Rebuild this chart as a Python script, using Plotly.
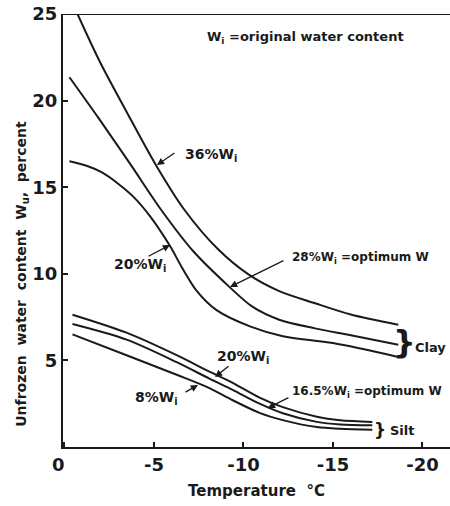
import plotly.graph_objects as go

# ---- data (temperature in °C, unfrozen water content in percent) ----
clay36_temp = [-0.73, -2.0, -3.5, -5.1, -6.7, -8.6, -10.3, -12.0, -14.0, -16.0, -18.65]
clay36_wu = [25.0, 22.2, 19.3, 16.3, 13.7, 11.4, 9.95, 9.0, 8.3, 7.65, 7.06]

clay28_temp = [-0.28, -1.9, -3.7, -5.4, -7.2, -9.2, -10.5, -12.0, -14.0, -16.0, -18.65]
clay28_wu = [21.35, 19.0, 16.3, 13.7, 11.3, 9.26, 8.1, 7.35, 6.85, 6.45, 5.9]

clay20_temp = [-0.28, -1.2, -2.1, -3.0, -3.9, -4.8, -5.9, -6.6, -7.4, -8.5, -10.4, -12.2, -15.0, -18.65]
clay20_wu = [16.5, 16.25, 15.85, 15.2, 14.4, 13.3, 11.6, 10.3, 9.0, 7.9, 6.95, 6.4, 6.0, 5.2]

silt20_temp = [-0.45, -3.47, -6.27, -8.1, -9.4, -10.9, -12.2, -14.1, -15.4, -17.2]
silt20_wu = [7.64, 6.6, 5.3, 4.35, 3.7, 2.85, 2.3, 1.75, 1.55, 1.45]

silt165_temp = [-0.45, -3.47, -6.27, -8.1, -9.4, -10.9, -12.2, -14.1, -15.4, -17.2]
silt165_wu = [7.1, 6.2, 4.9, 3.95, 3.3, 2.5, 1.95, 1.45, 1.3, 1.25]

silt8_temp = [-0.45, -3.47, -6.27, -8.1, -9.4, -10.9, -12.2, -14.1, -15.4, -17.2]
silt8_wu = [6.5, 5.3, 4.17, 3.4, 2.7, 1.97, 1.55, 1.15, 1.05, 1.0]

x_ticks = [0, -5, -10, -15, -20]
x_tick_labels = ["0\u2007", "-5", "-10", "-15", "-20"]
y_ticks = [5, 10, 15, 20, 25]

INK = "#1a1a1a"
FONT = "DejaVu Sans"

fig = go.Figure()
series = [
    ("Clay, 36% Wi", clay36_temp, clay36_wu),
    ("Clay, 28% Wi", clay28_temp, clay28_wu),
    ("Clay, 20% Wi", clay20_temp, clay20_wu),
    ("Silt, 20% Wi", silt20_temp, silt20_wu),
    ("Silt, 16.5% Wi", silt165_temp, silt165_wu),
    ("Silt, 8% Wi", silt8_temp, silt8_wu),
]
for name, xs, ys in series:
    fig.add_trace(go.Scatter(
        x=xs, y=ys, mode="lines", name=name,
        line=dict(color=INK, width=2, shape="spline", smoothing=0.85),
        hoverinfo="x+y+name", showlegend=False,
    ))

def label(text, x, y, size=13, xanchor="center"):
    fig.add_annotation(x=x, y=y, xref="x", yref="y", text=text, showarrow=False,
                       xanchor=xanchor, yanchor="middle",
                       font=dict(family=FONT, size=size, color=INK, weight="bold"))

def pointer(x0, y0, x1, y1):
    fig.add_annotation(x=x1, y=y1, ax=x0, ay=y0, xref="x", yref="y",
                       axref="x", ayref="y", text="", showarrow=True,
                       arrowhead=2, arrowsize=1.1, arrowwidth=1.3, arrowcolor=INK)

label("W<sub>i</sub> =original water content", -7.85, 23.67, size=13, xanchor="left")
label("36%W<sub>i</sub>", -6.62, 16.86, size=14, xanchor="left")
pointer(-6.23, 17.03, -5.17, 16.28)
label("20%W<sub>i</sub>", -4.22, 10.5, size=14)
pointer(-4.61, 10.97, -5.9, 11.66)
label("28%W<sub>i</sub> =optimum W", -12.6, 10.9, size=12, xanchor="left")
pointer(-12.32, 10.8, -9.25, 9.24)
label("}", -19.0, 6.06, size=32, xanchor="center")
label("Clay", -19.47, 5.77, size=13, xanchor="left")
label("20%W<sub>i</sub>", -10.0, 5.2, size=14)
pointer(-9.25, 4.73, -8.41, 4.04)
label("8%W<sub>i</sub>", -5.13, 2.83, size=14)
pointer(-6.68, 3.12, -7.46, 3.58)
label("16.5%W<sub>i</sub> =optimum W", -12.6, 3.18, size=12, xanchor="left")
pointer(-12.6, 2.89, -11.37, 2.25)
label("}", -17.63, 0.98, size=17, xanchor="center")
label("Silt", -18.07, 0.98, size=13, xanchor="left")

# y-axis title placed like the original (slightly below the plot centre)
fig.add_annotation(x=-0.106, y=10.0, xref="paper", yref="y", textangle=-90,
                   text="Unfrozen  water  content  W<sub>u</sub>,  percent", showarrow=False,
                   xanchor="center", yanchor="middle",
                   font=dict(family=FONT, size=14, color=INK, weight="bold"))

# top frame line
fig.add_shape(type="line", xref="paper", yref="y", x0=0, x1=1, y0=25, y1=25,
              line=dict(color=INK, width=2))

fig.update_layout(
    width=450, height=506,
    margin=dict(l=63, r=0, t=14, b=59),
    paper_bgcolor="white", plot_bgcolor="white",
    font=dict(family=FONT, color=INK),
    xaxis=dict(
        range=[0.08, -21.54], tickvals=x_ticks, ticktext=x_tick_labels,
        ticks="inside", ticklen=5, tickwidth=1.5, tickcolor=INK,
        showline=True, linecolor=INK, linewidth=2, showgrid=False, zeroline=False,
        tickfont=dict(family=FONT, size=18, color=INK, weight="bold"),
        title=dict(text="Temperature  \u00b0C", standoff=12,
                   font=dict(family=FONT, size=15, color=INK, weight="bold")),
    ),
    yaxis=dict(
        range=[0, 25], tickvals=y_ticks,
        ticks="inside", ticklen=5, tickwidth=1.5, tickcolor=INK,
        showline=True, linecolor=INK, linewidth=2, showgrid=False, zeroline=False,
        tickfont=dict(family=FONT, size=18, color=INK, weight="bold"),
    ),
)

fig.write_html("out.html")
